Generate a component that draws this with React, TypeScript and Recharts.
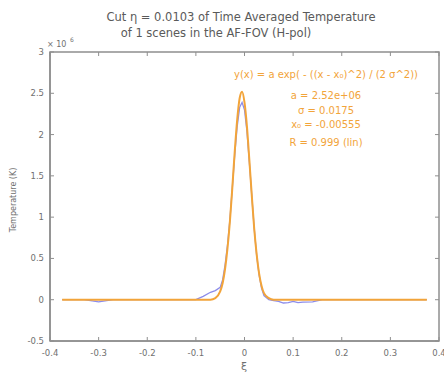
import React from "react";
import {
  LineChart,
  Line,
  XAxis,
  YAxis,
} from "recharts";

// xi positions (shared by both series)
const XI = [
  -0.375, -0.33, -0.3, -0.27, -0.2, -0.1, -0.085, -0.07, -0.06, -0.05, -0.045,
  -0.04, -0.035, -0.03, -0.025, -0.02, -0.015, -0.01, -0.005, 0, 0.005, 0.01,
  0.015, 0.02, 0.025, 0.03, 0.035, 0.04, 0.05, 0.06, 0.07, 0.08, 0.09, 0.1,
  0.11, 0.12, 0.14, 0.16, 0.2, 0.3, 0.375,
];
// measured temperature, x10^6 K
const MEASURED = [
  0, 0, -0.025, 0, 0, 0, 0.04, 0.09, 0.11, 0.15, 0.24, 0.42, 0.66, 0.97, 1.36,
  1.76, 2.1, 2.33, 2.39, 2.3, 2.04, 1.66, 1.26, 0.86, 0.54, 0.3, 0.14, 0.05, 0,
  -0.01, -0.02, -0.04, -0.035, -0.02, -0.035, -0.03, -0.025, 0, 0, 0, 0,
];
// gaussian fit, x10^6 K
const FIT = [
  0, 0, 0, 0, 0, 0, 0, 0, 0.02, 0.1, 0.2, 0.37, 0.62, 0.95, 1.36, 1.8, 2.18,
  2.44, 2.52, 2.39, 2.1, 1.69, 1.26, 0.86, 0.55, 0.32, 0.17, 0.08, 0.02, 0, 0,
  0, 0, 0, 0, 0, 0, 0, 0, 0, 0,
];
const X_TICKS = [-0.4, -0.3, -0.2, -0.1, 0, 0.1, 0.2, 0.3, 0.4];
const Y_TICKS = [-0.5, 0, 0.5, 1, 1.5, 2, 2.5, 3];
const X_DOMAIN = [-0.4, 0.4];
const Y_DOMAIN = [-0.5, 3];
const FIT_LINES = [
  "y(x) = a exp( - ((x - x\u2080)^2) / (2 \u03c3^2))",
  "a = 2.52e+06",
  "\u03c3 = 0.0175",
  "x\u2080 = -0.00555",
  "R = 0.999  (lin)",
];

const data = XI.map((x, i) => ({ xi: x, measured: MEASURED[i], fit: FIT[i] }));

const W = 444;
const H = 375;
const MARGIN = { top: 52, right: 5, bottom: 10, left: 10 };
const Y_AXIS_W = 40;
const X_AXIS_H = 24;
const PLOT_X = MARGIN.left + Y_AXIS_W;
const PLOT_Y = MARGIN.top;
const PLOT_W = W - MARGIN.left - MARGIN.right - Y_AXIS_W;
const PLOT_H = H - MARGIN.top - MARGIN.bottom - X_AXIS_H;

const AXIS = "#8f8f8f";
const TXT = "#707070";
const ORANGE = "#f2a43a";
const BLUE = "#8c8cea";
const FONT = "DejaVu Sans, sans-serif";
const T = 4; // tick length

const fmt = (v: number) => String(Math.round(v * 10) / 10);
const px = (v: number) =>
  PLOT_X + ((v - X_DOMAIN[0]) / (X_DOMAIN[1] - X_DOMAIN[0])) * PLOT_W;
const py = (v: number) =>
  PLOT_Y + PLOT_H - ((v - Y_DOMAIN[0]) / (Y_DOMAIN[1] - Y_DOMAIN[0])) * PLOT_H;

// box with inward ticks on all four sides, laid over the chart
function Frame() {
  return (
    <svg
      width={W}
      height={H}
      style={{ position: "absolute", left: 0, top: 0, pointerEvents: "none" }}
    >
      <rect
        x={PLOT_X}
        y={PLOT_Y}
        width={PLOT_W}
        height={PLOT_H}
        fill="none"
        stroke={AXIS}
        strokeWidth={1.5}
      />
      {X_TICKS.map((t) => (
        <g key={`x${t}`}>
          <line x1={px(t)} x2={px(t)} y1={PLOT_Y + PLOT_H} y2={PLOT_Y + PLOT_H - T} stroke={AXIS} />
          <line x1={px(t)} x2={px(t)} y1={PLOT_Y} y2={PLOT_Y + T} stroke={AXIS} />
        </g>
      ))}
      {Y_TICKS.map((t) => (
        <g key={`y${t}`}>
          <line x1={PLOT_X} x2={PLOT_X + T} y1={py(t)} y2={py(t)} stroke={AXIS} />
          <line x1={PLOT_X + PLOT_W} x2={PLOT_X + PLOT_W - T} y1={py(t)} y2={py(t)} stroke={AXIS} />
        </g>
      ))}
    </svg>
  );
}

export default function App() {
  return (
    <div style={{ position: "absolute", left: 0, top: 0, width: W, height: H, background: "#fff" }}>
      <LineChart width={W} height={H} data={data} margin={MARGIN}>
        <XAxis
          dataKey="xi"
          type="number"
          domain={X_DOMAIN}
          ticks={X_TICKS}
          height={X_AXIS_H}
          tickSize={0}
          tickMargin={9}
          tickLine={false}
          axisLine={{ stroke: AXIS, strokeWidth: 1.5 }}
          tick={{ fill: TXT, fontSize: 8.5, fontFamily: FONT }}
          tickFormatter={fmt}
          interval={0}
        />
        <YAxis
          type="number"
          domain={Y_DOMAIN}
          ticks={Y_TICKS}
          width={Y_AXIS_W}
          tickSize={0}
          tickMargin={6}
          tickLine={false}
          axisLine={{ stroke: AXIS, strokeWidth: 1.5 }}
          tick={{ fill: TXT, fontSize: 8.5, fontFamily: FONT }}
          tickFormatter={fmt}
          interval={0}
        />
        <Line
          dataKey="measured"
          stroke={BLUE}
          strokeWidth={1.3}
          dot={false}
          type="linear"
          isAnimationActive={false}
        />
        <Line
          dataKey="fit"
          stroke={ORANGE}
          strokeWidth={2}
          dot={false}
          type="monotone"
          isAnimationActive={false}
        />
        <text x={241} y={21} textAnchor="middle" fill="#5a5a5a" fontSize={11.5} fontFamily={FONT}>
          Cut η = 0.0103 of Time Averaged Temperature
        </text>
        <text x={216} y={37} textAnchor="middle" fill="#5a5a5a" fontSize={11.5} fontFamily={FONT}>
          of 1 scenes in the AF-FOV (H-pol)
        </text>
        <text x={47} y={47} fill={TXT} fontSize={8} fontFamily={FONT}>
          × 10
        </text>
        <text x={70} y={42} fill={TXT} fontSize={6} fontFamily={FONT}>
          6
        </text>
        <text
          x={16}
          y={200}
          transform="rotate(-90 16 200)"
          textAnchor="middle"
          fill={TXT}
          fontSize={8}
          fontFamily={FONT}
        >
          Temperature (K)
        </text>
        <text x={244} y={370} textAnchor="middle" fill={TXT} fontSize={11} fontFamily={FONT}>
          ξ
        </text>
        {FIT_LINES.map((s, i) => (
          <text
            key={s}
            x={326}
            y={[78, 99, 114, 128, 146][i]}
            textAnchor="middle"
            fill={ORANGE}
            fontSize={10}
            fontFamily={FONT}
          >
            {s}
          </text>
        ))}
      </LineChart>
      <Frame />
    </div>
  );
}
